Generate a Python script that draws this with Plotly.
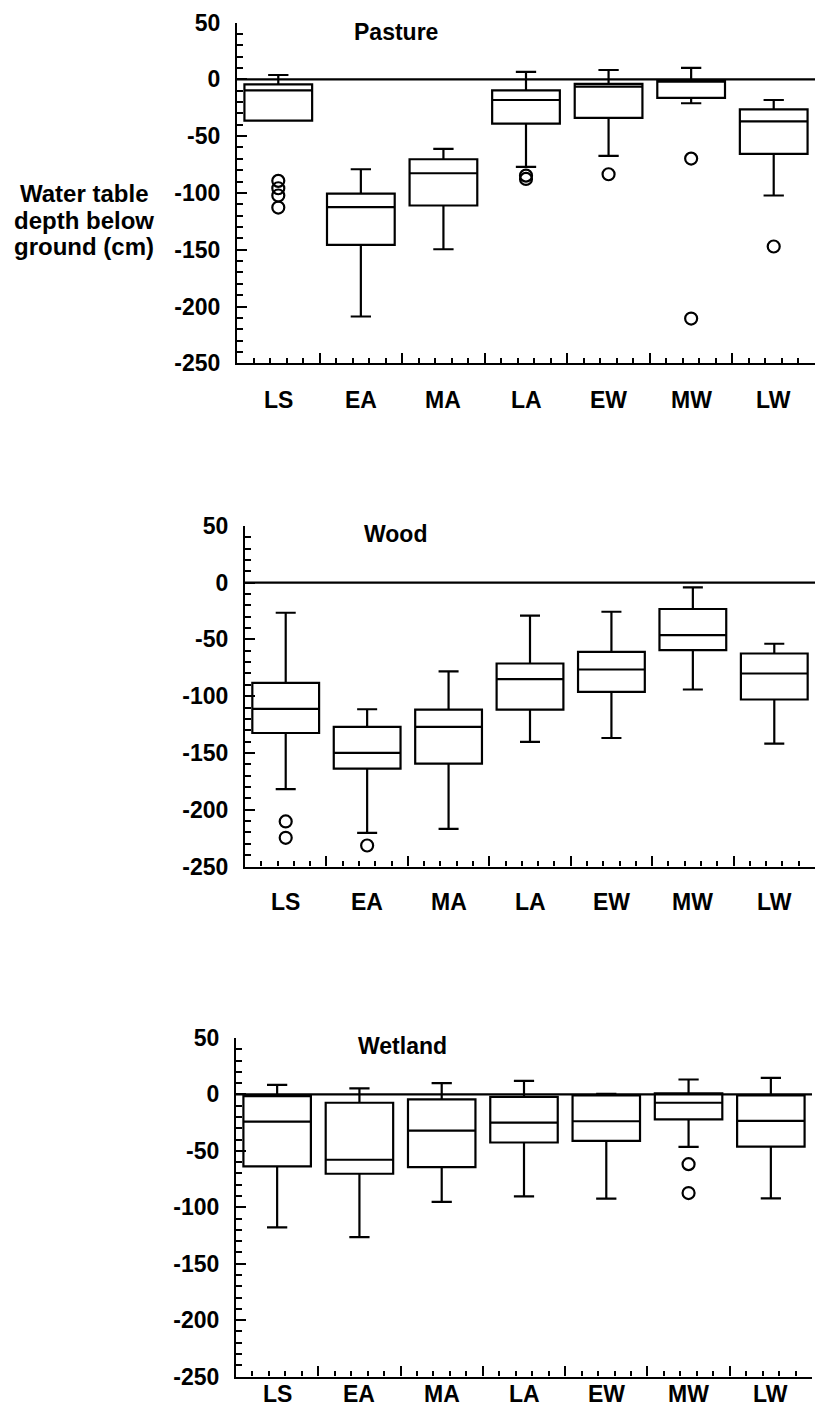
import plotly.graph_objects as go

# ---------------- data ----------------
categories = ["LS", "EA", "MA", "LA", "EW", "MW", "LW"]

pasture_upper = [3.8, -79.2, -61.3, 6.5, 8.2, 10.0, -18.2]
pasture_q3 = [-4.4, -100.6, -70.4, -9.7, -4.1, -1.0, -26.4]
pasture_median = [-9.7, -112.6, -82.7, -18.2, -6.5, -2.0, -37.0]
pasture_q1 = [-36.4, -145.7, -111.1, -39.0, -34.0, -16.4, -65.7]
pasture_lower = [-36.4, -208.8, -149.6, -77.1, -67.4, -21.1, -102.3]
pasture_out_cat = ["LS", "LS", "LS", "LS", "LA", "LA", "EW", "MW", "MW", "LW"]
pasture_out_val = [-89.4, -95.9, -102.3, -112.9, -84.8, -87.7, -83.6, -69.8, -210.6, -147.2]

wood_upper = [-26.5, -111.5, -78.2, -29.1, -25.6, -4.1, -53.8]
wood_q3 = [-88.2, -127.0, -111.8, -71.2, -60.9, -23.2, -62.4]
wood_median = [-111.2, -150.0, -127.0, -85.0, -76.5, -46.2, -80.0]
wood_q1 = [-132.4, -163.8, -159.4, -111.8, -96.2, -59.4, -102.9]
wood_lower = [-181.8, -220.3, -216.8, -140.3, -136.8, -94.1, -141.8]
wood_out_cat = ["LS", "LS", "EA"]
wood_out_val = [-210.3, -224.7, -231.5]

wet_upper = [8.5, 5.3, 10.0, 12.0, 0.6, 13.2, 14.7]
wet_q3 = [-1.5, -7.4, -4.4, -2.1, -0.9, 0.9, -0.9]
wet_median = [-24.1, -57.9, -32.1, -25.0, -23.8, -7.4, -23.5]
wet_q1 = [-63.8, -70.3, -64.4, -42.6, -41.2, -22.1, -46.2]
wet_lower = [-117.9, -126.5, -95.3, -90.3, -92.4, -46.5, -92.1]
wet_out_cat = ["MW", "MW"]
wet_out_val = [-61.8, -87.4]

ytick_vals = [50, 0, -50, -100, -150, -200, -250]
ytick_text = ["50", "0", "-50", "-100", "-150", "-200", "-250"]

panel_titles = ["Pasture", "Wood", "Wetland"]
y_title_lines = ["Water table", "depth below", "ground (cm)"]

# ---------------- layout geometry (pixels) ----------------
W, H = 815, 1410
FONT = "Liberation Sans, Arial, Helvetica, sans-serif"

def px_x(p):
    return p / W

def px_y(p):
    return 1 - p / H

panels = [
    dict(x0=237, x1=815, top=22.5, bottom=363.3, lab_y=400, title=(396, 32),
         data=(pasture_lower, pasture_q1, pasture_median, pasture_q3, pasture_upper),
         out=(pasture_out_cat, pasture_out_val)),
    dict(x0=245, x1=815, top=525.9, bottom=866.5, lab_y=902, title=(395, 534),
         data=(wood_lower, wood_q1, wood_median, wood_q3, wood_upper),
         out=(wood_out_cat, wood_out_val)),
    dict(x0=236, x1=812, top=1038, bottom=1376.5, lab_y=1394, title=(402, 1046),
         data=(wet_lower, wet_q1, wet_median, wet_q3, wet_upper),
         out=(wet_out_cat, wet_out_val)),
]

fig = go.Figure()
cat_pos = {c: i for i, c in enumerate(categories)}
annotations = []
shapes = []

for k, p in enumerate(panels):
    n = "" if k == 0 else str(k + 1)
    xa, ya = "x" + n, "y" + n
    lower, q1, med, q3, upper = p["data"]
    fig.add_trace(go.Box(
        x=[cat_pos[c] for c in categories],
        lowerfence=lower, q1=q1, median=med, q3=q3, upperfence=upper,
        width=0.82, whiskerwidth=0.3,
        line=dict(color="black", width=2.2), fillcolor="rgba(255,255,255,0)",
        boxpoints=False, showlegend=False, hoverinfo="skip",
        xaxis=xa, yaxis=ya,
    ))
    oc, ov = p["out"]
    fig.add_trace(go.Scatter(
        x=[cat_pos[c] for c in oc], y=ov, mode="markers",
        marker=dict(symbol="circle-open", size=12, color="black", line=dict(width=2.2)),
        showlegend=False, hoverinfo="skip", xaxis=xa, yaxis=ya,
    ))
    axis_common = dict(showline=True, linewidth=2.2, linecolor="black", showgrid=False,
                       zeroline=False, ticks="inside", tickwidth=2, tickcolor="black",
                       automargin=False)
    fig.update_layout(**{
        ("xaxis" + n): dict(
            axis_common, domain=[px_x(p["x0"]), px_x(p["x1"])], anchor=ya,
            range=[-0.5, len(categories) - 0.5], tickmode="linear", tick0=-0.5, dtick=1,
            ticklen=10, showticklabels=False,
            minor=dict(tickmode="linear", tick0=-0.5, dtick=0.2, ticks="inside",
                       ticklen=5, tickwidth=2, tickcolor="black", showgrid=False),
        ),
        ("yaxis" + n): dict(
            axis_common, domain=[px_y(p["bottom"]), px_y(p["top"])], anchor=xa,
            range=[-250, 50], tickmode="array", tickvals=ytick_vals, ticktext=ytick_text,
            ticklen=10, ticklabelstandoff=10,
            tickfont=dict(family=FONT, size=23, color="black", weight="bold"),
            minor=dict(tickmode="linear", tick0=0, dtick=10, ticks="inside",
                       ticklen=6, tickwidth=2, tickcolor="black", showgrid=False),
        ),
    })
    # zero line
    shapes.append(dict(type="line", xref=xa + " domain", yref=ya, x0=0, x1=1, y0=0, y1=0,
                       line=dict(color="black", width=2.2)))
    # category labels
    for c in categories:
        annotations.append(dict(text=c, x=cat_pos[c], xref=xa, y=px_y(p["lab_y"]), yref="paper",
                                showarrow=False, xanchor="center", yanchor="middle",
                                font=dict(family=FONT, size=23, color="black", weight="bold")))
    # panel title
    tx, ty = p["title"]
    annotations.append(dict(text=panel_titles[k], x=px_x(tx), y=px_y(ty), xref="paper", yref="paper",
                            showarrow=False, xanchor="center", yanchor="middle",
                            font=dict(family=FONT, size=23, color="black", weight="bold")))

for i, line in enumerate(y_title_lines):
    annotations.append(dict(text=line, x=px_x(84), y=px_y(193 + 27 * i), xref="paper", yref="paper",
                            showarrow=False, xanchor="center", yanchor="middle",
                            font=dict(family=FONT, size=24, color="black", weight="bold")))

fig.update_layout(width=W, height=H, margin=dict(l=0, r=0, t=0, b=0, autoexpand=False),
                  paper_bgcolor="white", plot_bgcolor="white",
                  annotations=annotations, shapes=shapes)

fig.write_html("out.html")
